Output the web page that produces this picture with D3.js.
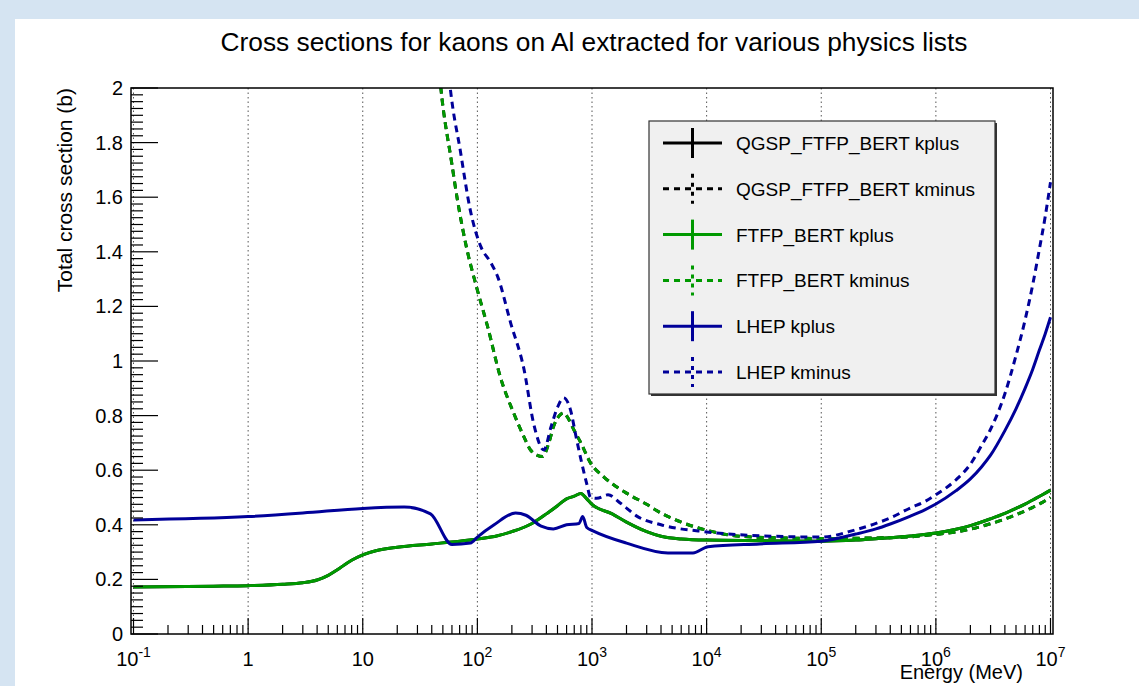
<!doctype html>
<html>
<head>
<meta charset="utf-8">
<style>
    body {
        margin: 0;
        background: #d5e4f2;
    }
    svg {
        display: block;
    }
    text {
        font-family: 'Liberation Sans', Arial, sans-serif;
        fill: #000;
    }
    text.title { font-size: 26.3px; }
    text.tick { font-size: 20px; }
    text.axis-title { font-size: 21px; }
    text.x-title { font-size: 20px; }
    text.legend { font-size: 19px; }
    .grid line {
        stroke: #555;
        stroke-width: 1;
        stroke-dasharray: 1.5 3;
    }
    .frame {
        fill: none;
        stroke: #000;
        stroke-width: 1.5;
    }
    .ticks line {
        stroke: #000;
        stroke-width: 1.2;
    }
</style>
<script src="https://d3js.org/d3.v7.min.js"></script>
</head>
<body>
<svg width="1139" height="686"></svg>
<script>
// ---- data ----
const titleText = 'Cross sections for kaons on Al extracted for various physics lists'
const xTitle = 'Energy (MeV)'
const yTitle = 'Total cross section (b)'

const xTickExps = [-1, 0, 1, 2, 3, 4, 5, 6, 7]
const yTickValues = [0, 0.2, 0.4, 0.6, 0.8, 1, 1.2, 1.4, 1.6, 1.8, 2]
const yTickLabels = ['0', '0.2', '0.4', '0.6', '0.8', '1', '1.2', '1.4', '1.6', '1.8', '2']

const seriesNames = ['QGSP_FTFP_BERT kplus', 'QGSP_FTFP_BERT kminus', 'FTFP_BERT kplus',
                     'FTFP_BERT kminus', 'LHEP kplus', 'LHEP kminus']

// FTFP_BERT kplus (energy in MeV, cross section in b)
const ftfpPlusE = [0.1, 0.5, 1, 2, 3, 4, 5, 6, 7, 8, 10, 13, 20, 40, 70, 100, 150, 200, 300, 400,
                   500, 600, 700, 800, 900, 1000, 1500, 2000, 3000, 4000, 6000, 1e4, 3e4, 1e5,
                   2e5, 3e5, 6e5, 1e6, 1.5e6, 2e6, 3e6, 4e6, 5e6, 6e6, 7e6, 8.5e6, 1e7]
const ftfpPlusV = [0.172, 0.175, 0.177, 0.182, 0.188, 0.198, 0.215, 0.235, 0.255, 0.27, 0.29, 0.305,
                   0.318, 0.33, 0.34, 0.348, 0.36, 0.375, 0.405, 0.44, 0.47, 0.495, 0.505, 0.515,
                   0.495, 0.475, 0.44, 0.41, 0.375, 0.358, 0.348, 0.344, 0.342, 0.34,
                   0.344, 0.349, 0.359, 0.37, 0.384, 0.397, 0.422, 0.442, 0.46, 0.476, 0.491,
                   0.51, 0.527]

// FTFP_BERT kminus
const ftfpMinusE = [40, 48, 60, 67, 80, 100, 123, 159, 207, 250, 291, 330, 371, 420, 462, 520, 565,
                    620, 691, 800, 973, 1270, 2000, 3000, 4000, 6000, 1e4, 2.3e4, 1e5, 3e5, 6e5,
                    1e6, 1.5e6, 2e6, 3e6, 4e6, 5e6, 6e6, 7e6, 8.5e6, 1e7]
const ftfpMinusV = [2.4, 2.0, 1.72, 1.59, 1.42, 1.26, 1.125, 0.94, 0.81, 0.73, 0.674, 0.655, 0.65,
                    0.7, 0.76, 0.8, 0.81, 0.79, 0.75, 0.7, 0.626, 0.575, 0.516, 0.475, 0.443, 0.41,
                    0.38, 0.356, 0.35, 0.352, 0.356, 0.365, 0.374, 0.384, 0.404, 0.421, 0.437,
                    0.451, 0.464, 0.482, 0.5]

// QGSP_FTFP_BERT is identical to FTFP_BERT here (hidden beneath it)
const qgspPlusE = ftfpPlusE, qgspPlusV = ftfpPlusV
const qgspMinusE = ftfpMinusE, qgspMinusV = ftfpMinusV

// LHEP kplus
const lhepPlusE = [0.1, 1, 3, 10, 23, 39, 60, 87, 100, 140, 215, 265, 360, 460, 600, 770, 830, 900,
                   1020, 2000, 4600, 7600, 1.03e4, 2.9e4, 1e5, 2e5, 3e5, 4e5, 6e5, 8e5, 1e6, 1.5e6,
                   2e6, 2.5e6, 3e6, 4e6, 5e6, 6e6, 7e6, 8e6, 9e6, 1e7]
const lhepPlusV = [0.418, 0.43, 0.443, 0.46, 0.465, 0.44, 0.328, 0.333, 0.355, 0.4, 0.443, 0.435,
                   0.395, 0.385, 0.4, 0.405, 0.43, 0.39, 0.378, 0.333, 0.297, 0.297, 0.32, 0.33,
                   0.34, 0.366, 0.385, 0.403, 0.432, 0.455, 0.476, 0.525, 0.568, 0.612, 0.655,
                   0.745, 0.825, 0.9, 0.97, 1.04, 1.1, 1.16]

// LHEP kminus
const lhepMinusE = [50, 58, 71, 87, 107, 131, 150, 195, 255, 310, 380, 440, 500, 565, 650, 720, 800,
                    900, 973, 1100, 1380, 1760, 2500, 4000, 1e4, 2.9e4, 1e5, 2e5, 3e5, 4e5, 6e5,
                    8e5, 1e6, 1.5e6, 2e6, 2.5e6, 3e6, 4e6, 5e6, 6e6, 7e6, 8e6, 9e6, 1e7]
const lhepMinusV = [2.3, 2.0, 1.77, 1.55, 1.42, 1.36, 1.31, 1.14, 0.97, 0.77, 0.674, 0.76, 0.83,
                    0.865, 0.82, 0.73, 0.64, 0.55, 0.5, 0.497, 0.51, 0.48, 0.43, 0.4, 0.374, 0.36,
                    0.355, 0.382, 0.405, 0.425, 0.462, 0.485, 0.51, 0.565, 0.622, 0.69, 0.75,
                    0.88, 1.02, 1.15, 1.28, 1.41, 1.53, 1.655]

const seriesColors = ['#000000', '#000000', '#009900', '#009900', '#000099', '#000099']
const seriesDashed = [false, true, false, true, false, true]

const series = [
    [qgspPlusE, qgspPlusV], [qgspMinusE, qgspMinusV],
    [ftfpPlusE, ftfpPlusV], [ftfpMinusE, ftfpMinusV],
    [lhepPlusE, lhepPlusV], [lhepMinusE, lhepMinusV]
].map(([e, v], i) => ({
    name: seriesNames[i],
    color: seriesColors[i],
    dashed: seriesDashed[i],
    points: e.map((d, j) => ({ e: d, v: v[j] }))
}))

// ---- layout ----
const svg = d3.select('svg')

const frame = { left: 131, right: 1053, top: 88, bottom: 634 }

svg.append('rect')
    .attr('x', 15).attr('y', 19)
    .attr('width', 1139 - 15).attr('height', 686 - 19)
    .attr('fill', '#fff')

const x = d3.scaleLog()
    .domain([0.1, 1e7])
    .range([133.5, 1050.5])

const y = d3.scaleLinear()
    .domain([0, 2])
    .range([frame.bottom, frame.top])

// vertical grid at decades
svg.append('g').attr('class', 'grid')
    .selectAll('line')
    .data(xTickExps)
    .enter().append('line')
    .attr('x1', d => x(Math.pow(10, d))).attr('x2', d => x(Math.pow(10, d)))
    .attr('y1', frame.top).attr('y2', frame.bottom)

// curves
svg.append('clipPath').attr('id', 'plotclip')
    .append('rect')
    .attr('x', frame.left).attr('y', frame.top)
    .attr('width', frame.right - frame.left).attr('height', frame.bottom - frame.top)

const line = d3.line()
    .x(d => x(d.e))
    .y(d => y(d.v))
    .curve(d3.curveMonotoneX)

svg.append('g')
    .attr('clip-path', 'url(#plotclip)')
    .selectAll('path')
    .data(series)
    .enter().append('path')
    .attr('d', d => line(d.points))
    .attr('fill', 'none')
    .attr('stroke', d => d.color)
    .attr('stroke-width', 3)
    .attr('stroke-dasharray', d => d.dashed ? '7 5' : null)

// ticks
const ticks = svg.append('g').attr('class', 'ticks')

// y: major every 0.2, minor every 0.025
const yMinor = d3.range(0, 2.0001, 0.025)
ticks.selectAll('.ym')
    .data(yMinor)
    .enter().append('line')
    .attr('x1', frame.left)
    .attr('x2', (d, i) => frame.left + (i % 8 === 0 ? 27 : 12))
    .attr('y1', d => y(d)).attr('y2', d => y(d))

// x: major at decades, minor at 2..9
const xMinor = []
xTickExps.slice(0, -1).forEach(p => {
    for (let k = 2; k <= 9; k++) xMinor.push(k * Math.pow(10, p))
})
ticks.selectAll('.xM')
    .data(xTickExps)
    .enter().append('line')
    .attr('x1', d => x(Math.pow(10, d))).attr('x2', d => x(Math.pow(10, d)))
    .attr('y1', frame.bottom).attr('y2', frame.bottom - 16)
ticks.selectAll('.xm')
    .data(xMinor)
    .enter().append('line')
    .attr('x1', d => x(d)).attr('x2', d => x(d))
    .attr('y1', frame.bottom).attr('y2', frame.bottom - 9)

svg.append('rect')
    .attr('class', 'frame')
    .attr('x', frame.left).attr('y', frame.top)
    .attr('width', frame.right - frame.left).attr('height', frame.bottom - frame.top)

// y tick labels
svg.append('g')
    .selectAll('text')
    .data(yTickValues)
    .enter().append('text')
    .attr('class', 'tick')
    .attr('x', 123)
    .attr('y', d => y(d) + 7)
    .attr('text-anchor', 'end')
    .text((d, i) => yTickLabels[i])

// x tick labels with exponents
const xl = svg.append('g')
    .selectAll('text')
    .data(xTickExps)
    .enter().append('text')
    .attr('class', 'tick')
    .attr('x', d => x(Math.pow(10, d)))
    .attr('y', 666)
    .attr('text-anchor', 'middle')

xl.each(function (p) {
    const t = d3.select(this)
    if (p === 0) { t.text('1'); return }
    t.append('tspan').text('10')
    if (p !== 1) {
        t.append('tspan')
            .attr('dy', -9)
            .style('font-size', '14px')
            .text(String(p))
    }
})

// titles
svg.append('text')
    .attr('class', 'title')
    .attr('x', 594)
    .attr('y', 51)
    .attr('text-anchor', 'middle')
    .text(titleText)

svg.append('text')
    .attr('class', 'axis-title')
    .attr('transform', 'translate(72, 88) rotate(-90)')
    .attr('text-anchor', 'end')
    .text(yTitle)

svg.append('text')
    .attr('class', 'x-title')
    .attr('x', 1023)
    .attr('y', 679)
    .attr('text-anchor', 'end')
    .text(xTitle)

// legend
const legend = svg.append('g')
legend.append('rect')
    .attr('x', 651).attr('y', 123)
    .attr('width', 346).attr('height', 273)
    .attr('fill', '#333')
legend.append('rect')
    .attr('x', 649).attr('y', 121)
    .attr('width', 346).attr('height', 273)
    .attr('fill', '#f0f0f0')
    .attr('stroke', '#333')
    .attr('stroke-width', 1.2)

const rowY = i => 143 + i * 45.8

const rows = legend.selectAll('.row')
    .data(series)
    .enter().append('g')
    .attr('transform', (d, i) => `translate(0, ${rowY(i)})`)

rows.append('line')
    .attr('x1', 663).attr('x2', 722)
    .attr('y1', 0).attr('y2', 0)
    .attr('stroke', d => d.color)
    .attr('stroke-width', 3)
    .attr('stroke-dasharray', d => d.dashed ? '6 5' : null)

rows.append('line')
    .attr('x1', 692.5).attr('x2', 692.5)
    .attr('y1', -15).attr('y2', 15)
    .attr('stroke', d => d.color)
    .attr('stroke-width', 3)
    .attr('stroke-dasharray', d => d.dashed ? '4 5' : null)

rows.append('text')
    .attr('class', 'legend')
    .attr('x', 736)
    .attr('y', 7)
    .text(d => d.name)
</script>
</body>
</html>
